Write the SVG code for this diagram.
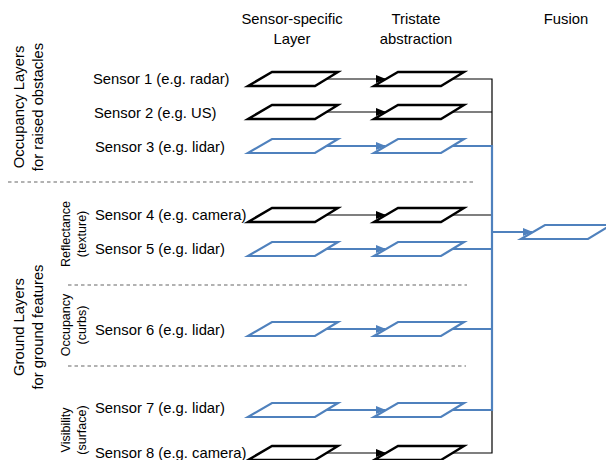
<svg xmlns="http://www.w3.org/2000/svg" width="606" height="460" viewBox="0 0 606 460">
<style>
text{font-family:"Liberation Sans",Arial,sans-serif;fill:#000}
.t{font-size:14.8px}
.s{font-size:12.5px}
.h{font-size:14.8px;text-anchor:middle}
.m{text-anchor:middle}
.pb{fill:#fff;stroke:#000;stroke-width:2.4;stroke-linejoin:miter}
.pu{fill:#fff;stroke:#4F81BD;stroke-width:2.2;stroke-linejoin:miter}
.cb{fill:none;stroke:#000;stroke-width:1.2}
.cu{fill:none;stroke:#4F81BD;stroke-width:2.2}
.d{fill:none;stroke:#666;stroke-width:1.2;stroke-dasharray:3.5,3}
</style>
<defs>
<marker id="ab" markerUnits="userSpaceOnUse" markerWidth="10" markerHeight="10" viewBox="0 0 10 10" refX="9" refY="5" orient="auto">
<path d="M0,1 L10,5 L0,9 z" fill="#000"/>
</marker>
<marker id="au" markerUnits="userSpaceOnUse" markerWidth="10" markerHeight="10" viewBox="0 0 10 10" refX="9" refY="5" orient="auto">
<path d="M0,1 L10,5 L0,9 z" fill="#4F81BD"/>
</marker>
<path id="para" d="M0,7 L24,-7 L90,-7 L67,7 z"/>
</defs>

<g id="headers">
<text class="h" x="292" y="24">Sensor-specific</text>
<text class="h" x="292" y="44">Layer</text>
<text class="h" x="416" y="24">Tristate</text>
<text class="h" x="416" y="44">abstraction</text>
<text class="h" x="566" y="24">Fusion</text>
</g>

<g id="group-labels">
<text class="t m" transform="translate(24,107) rotate(-90)">Occupancy Layers</text>
<text class="t m" transform="translate(43,107) rotate(-90)">for raised obstacles</text>
<text class="t m" transform="translate(24,327) rotate(-90)">Ground Layers</text>
<text class="t m" transform="translate(43,327) rotate(-90)">for ground features</text>
<text class="s m" transform="translate(70,234) rotate(-90)">Reflectance</text>
<text class="s m" transform="translate(86,234) rotate(-90)">(texture)</text>
<text class="s m" transform="translate(70,325) rotate(-90)">Occupancy</text>
<text class="s m" transform="translate(86,325) rotate(-90)">(curbs)</text>
<text class="s m" transform="translate(70,430) rotate(-90)">Visibility</text>
<text class="s m" transform="translate(86,430) rotate(-90)">(surface)</text>
</g>

<g id="separators">
<line class="d" x1="8" y1="182" x2="473" y2="182"/>
<line class="d" x1="68" y1="285" x2="467" y2="285"/>
<line class="d" x1="68" y1="366" x2="466" y2="366"/>
</g>

<g id="connectors">
<line class="cb" x1="326" y1="79" x2="385" y2="79" marker-end="url(#ab)"/>
<line class="cb" x1="326" y1="112" x2="385" y2="112" marker-end="url(#ab)"/>
<line class="cu" x1="326" y1="146" x2="385" y2="146" marker-end="url(#au)"/>
<line class="cb" x1="326" y1="215" x2="385" y2="215" marker-end="url(#ab)"/>
<line class="cu" x1="326" y1="249" x2="385" y2="249" marker-end="url(#au)"/>
<line class="cu" x1="326" y1="329" x2="385" y2="329" marker-end="url(#au)"/>
<line class="cu" x1="326" y1="410" x2="385" y2="410" marker-end="url(#au)"/>
<line class="cb" x1="326" y1="453" x2="385" y2="453" marker-end="url(#ab)"/>
<polyline class="cb" points="452,79 492,79 492,146"/>
<line class="cb" x1="452" y1="112" x2="492" y2="112"/>
<line class="cb" x1="452" y1="215" x2="492" y2="215"/>
<polyline class="cb" points="452,453 492,453 492,410"/>
<polyline class="cu" points="452,146 492,146 492,410 452,410"/>
<line class="cu" x1="452" y1="249" x2="492" y2="249"/>
<line class="cu" x1="452" y1="329" x2="492" y2="329"/>
<line class="cu" x1="492" y1="232" x2="532" y2="232" marker-end="url(#au)"/>
</g>

<g id="sensor1"><text class="t" x="93" y="84">Sensor 1 (e.g. radar)</text><use href="#para" class="pb" x="248" y="79"/><use href="#para" class="pb" x="374" y="79"/></g>
<g id="sensor2"><text class="t" x="94" y="118">Sensor 2 (e.g. US)</text><use href="#para" class="pb" x="248" y="112"/><use href="#para" class="pb" x="374" y="112"/></g>
<g id="sensor3"><text class="t" x="95" y="152">Sensor 3 (e.g. lidar)</text><use href="#para" class="pu" x="248" y="146"/><use href="#para" class="pu" x="374" y="146"/></g>
<g id="sensor4"><text class="t" x="95" y="220">Sensor 4 (e.g. camera)</text><use href="#para" class="pb" x="248" y="215"/><use href="#para" class="pb" x="374" y="215"/></g>
<g id="sensor5"><text class="t" x="95" y="254">Sensor 5 (e.g. lidar)</text><use href="#para" class="pu" x="248" y="249"/><use href="#para" class="pu" x="374" y="249"/></g>
<g id="sensor6"><text class="t" x="95" y="335">Sensor 6 (e.g. lidar)</text><use href="#para" class="pu" x="248" y="329"/><use href="#para" class="pu" x="374" y="329"/></g>
<g id="sensor7"><text class="t" x="95" y="413">Sensor 7 (e.g. lidar)</text><use href="#para" class="pu" x="248" y="410"/><use href="#para" class="pu" x="374" y="410"/></g>
<g id="sensor8"><text class="t" x="95" y="458">Sensor 8 (e.g. camera)</text><use href="#para" class="pb" x="248" y="453"/><use href="#para" class="pb" x="374" y="453"/></g>
<g id="fusion"><use href="#para" class="pu" x="521" y="232"/></g>
</svg>
